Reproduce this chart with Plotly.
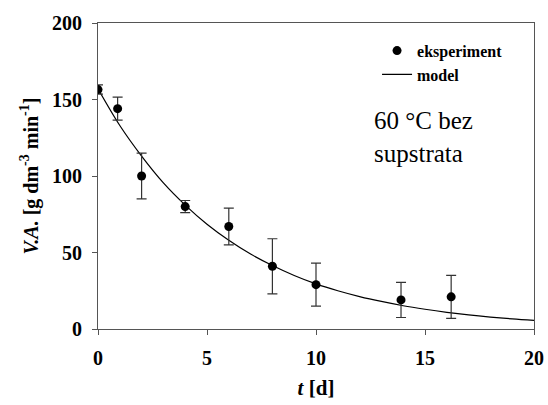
import plotly.graph_objects as go

# experimental data
t_exp = [0, 0.9, 2, 4, 6, 8, 10, 13.9, 16.2]
va_exp = [156.5, 144, 100, 80, 67, 41, 29, 19, 21]
va_err = [3, 7.5, 15, 4, 12, 18, 14, 11.5, 14]

# model curve
t_model = list(range(0, 21))
va_model = [157, 133, 113, 95.5, 81, 68.5, 58, 49, 41.5, 35, 29.5, 25, 21.2, 18,
            15.2, 12.9, 10.9, 9.2, 7.8, 6.6, 5.6]

x_ticks = [0, 5, 10, 15, 20]
y_ticks = [0, 50, 100, 150, 200]

SERIF = "Liberation Serif, Times New Roman, serif"

fig = go.Figure()
fig.add_trace(go.Scatter(
    x=t_model, y=va_model, mode="lines", name="<b>model</b>",
    line=dict(color="black", width=1.2, shape="spline"), legendrank=2))
fig.add_trace(go.Scatter(
    x=t_exp, y=va_exp, mode="markers", name="<b>eksperiment</b>",
    marker=dict(color="black", size=9),
    error_y=dict(type="data", array=va_err, visible=True, color="#333333",
                 thickness=1.2, width=5),
    legendrank=1))

axis_common = dict(
    showline=True, linecolor="#555555", linewidth=1, mirror=True,
    ticks="outside", ticklen=5, tickcolor="#555555", showgrid=False,
    zeroline=False, automargin=False,
    tickfont=dict(family=SERIF, size=20, color="black"),
)

fig.update_xaxes(range=[0, 20], tickvals=x_ticks, ticktext=[f"<b>{v}</b>" for v in x_ticks],
                 ticklabelstandoff=6,
                 title=dict(text="<b><i>t</i> [d]</b>", font=dict(family=SERIF, size=21, color="black"),
                            standoff=12),
                 **axis_common)
fig.update_yaxes(range=[0, 200], tickvals=y_ticks, ticktext=[f"<b>{v}</b>" for v in y_ticks],
                 ticklabelstandoff=6,
                 title=dict(text="<b><i>V.A.</i> [g dm<sup>-3</sup> min<sup>-1</sup>]</b>",
                            font=dict(family=SERIF, size=20, color="black"), standoff=8),
                 **axis_common)

fig.add_annotation(x=0.629, y=0.628, xref="paper", yref="paper", xanchor="left", yanchor="middle",
                   text="60 °C bez<br>supstrata", showarrow=False, align="left",
                   font=dict(family=SERIF, size=25, color="black"))

fig.update_layout(
    width=548, height=405,
    margin=dict(l=98, r=14, t=23, b=76),
    paper_bgcolor="white", plot_bgcolor="white",
    showlegend=True,
    legend=dict(x=0.64, y=0.965, xanchor="left", yanchor="top",
                font=dict(family=SERIF, size=16, color="black"),
                bgcolor="rgba(0,0,0,0)", tracegroupgap=0, itemwidth=30),
)

fig.write_html("out.html")
